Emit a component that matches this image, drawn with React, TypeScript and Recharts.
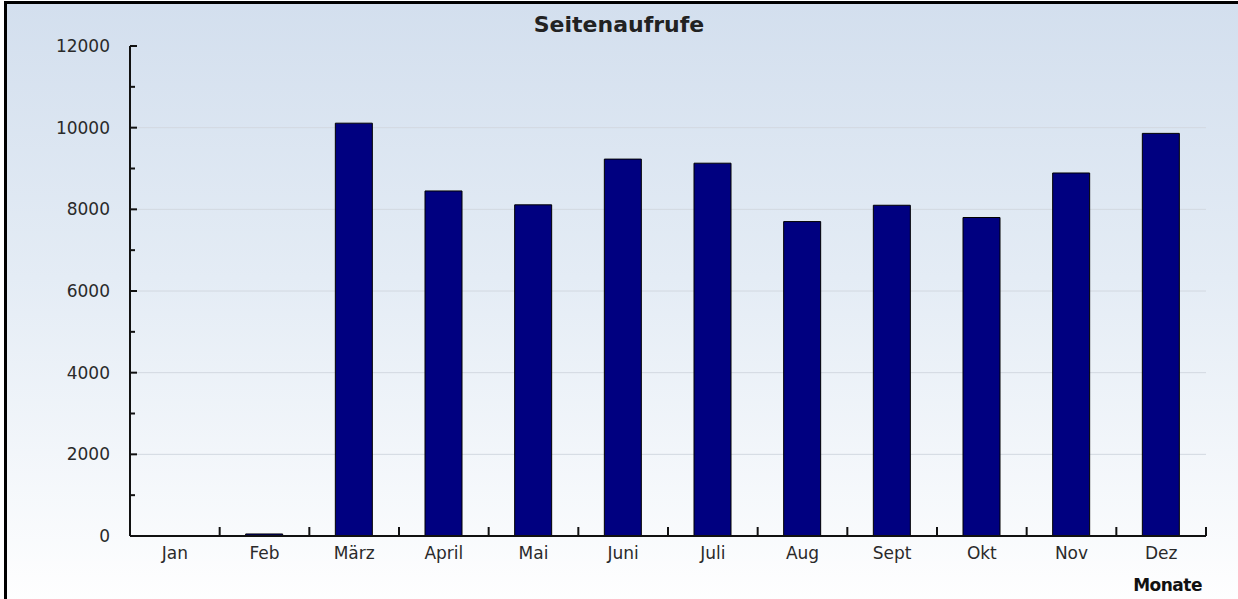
import React from 'react';
import { Bar, BarChart, XAxis, YAxis, CartesianGrid } from 'recharts';

const months = ['Jan', 'Feb', 'März', 'April', 'Mai', 'Juni', 'Juli', 'Aug', 'Sept', 'Okt', 'Nov', 'Dez'];
const pageViews = [0, 50, 10110, 8450, 8110, 9230, 9130, 7700, 8100, 7800, 8890, 9860];
const yTicks = [0, 1000, 2000, 3000, 4000, 5000, 6000, 7000, 8000, 9000, 10000, 11000, 12000];
const gridValues = [2000, 4000, 6000, 8000, 10000];

const W = 1238;
const H = 599;
const PLOT_LEFT = 130;
const PLOT_RIGHT = 32;
const BAND = (W - PLOT_LEFT - PLOT_RIGHT) / months.length;
const FONT = '"DejaVu Sans", Verdana, sans-serif';

const chartData = months.map((m, i) => ({ name: m, views: pageViews[i] }));

const YTick = (props: any) => {
  const { x, y, payload } = props;
  const major = payload.value % 2000 === 0;
  return (
    <g>
      <line x1={x + 20} x2={x + 20 + (major ? 7 : 5)} y1={y} y2={y} stroke='#111' strokeWidth={2} />
      {major && (
        <text x={x} y={y} dy={6} textAnchor='end' fontSize={17} fontFamily={FONT} fill='#2a2a2a'>
          {payload.value}
        </text>
      )}
    </g>
  );
};

const XTick = (props: any) => {
  const { x, y, payload } = props;
  const bx = x + BAND / 2;
  return (
    <g>
      <line x1={bx} x2={bx} y1={y - 8} y2={y - 17} stroke='#111' strokeWidth={2} />
      <text x={x} y={y} dy={15} textAnchor='middle' fontSize={17} fontFamily={FONT} fill='#2a2a2a'>
        {payload.value}
      </text>
    </g>
  );
};

export default function App() {
  return (
    <div style={{ position: 'absolute', left: 0, top: 0, width: W, height: H, background: '#fff', overflow: 'hidden' }}>
      <div
        style={{
          position: 'absolute',
          left: 4,
          top: 1,
          width: W + 10,
          height: H + 10,
          borderLeft: '3px solid #000',
          borderTop: '3px solid #000',
          background: 'linear-gradient(to bottom, #d3dfee 0%, #e4ecf5 45%, #ffffff 100%)',
        }}
      />
      <div
        style={{
          position: 'absolute',
          left: 0,
          width: W,
          top: 12,
          textAlign: 'center',
          fontFamily: FONT,
          fontWeight: 'bold',
          fontSize: 22,
          color: '#222',
        }}>
        Seitenaufrufe
      </div>
      <div
        style={{
          position: 'absolute',
          right: 36,
          top: 575,
          fontFamily: FONT,
          fontSize: 17,
          color: '#111',
          fontWeight: 'bold',
          letterSpacing: -0.5,
        }}>
        Monate
      </div>
      <div style={{ position: 'absolute', left: 0, top: 0 }}>
        <BarChart
          width={W}
          height={H}
          data={chartData}
          margin={{ top: 46, right: PLOT_RIGHT, left: 0, bottom: 0 }}>
          <CartesianGrid vertical={false} horizontalValues={gridValues} stroke='#d2d8e0' strokeWidth={1} />
          <XAxis
            dataKey='name'
            height={63}
            axisLine={{ stroke: '#111', strokeWidth: 2 }}
            tickLine={false}
            tickSize={0}
            tickMargin={8}
            interval={0}
            tick={<XTick />}
          />
          <YAxis
            width={PLOT_LEFT}
            domain={[0, 12000]}
            ticks={yTicks}
            interval={0}
            axisLine={{ stroke: '#111', strokeWidth: 2 }}
            tickLine={false}
            tickSize={0}
            tickMargin={20}
            tick={<YTick />}
          />
          <Bar dataKey='views' fill='#000080' stroke='#000' strokeWidth={1} barSize={37} isAnimationActive={false} />
        </BarChart>
      </div>
    </div>
  );
}
